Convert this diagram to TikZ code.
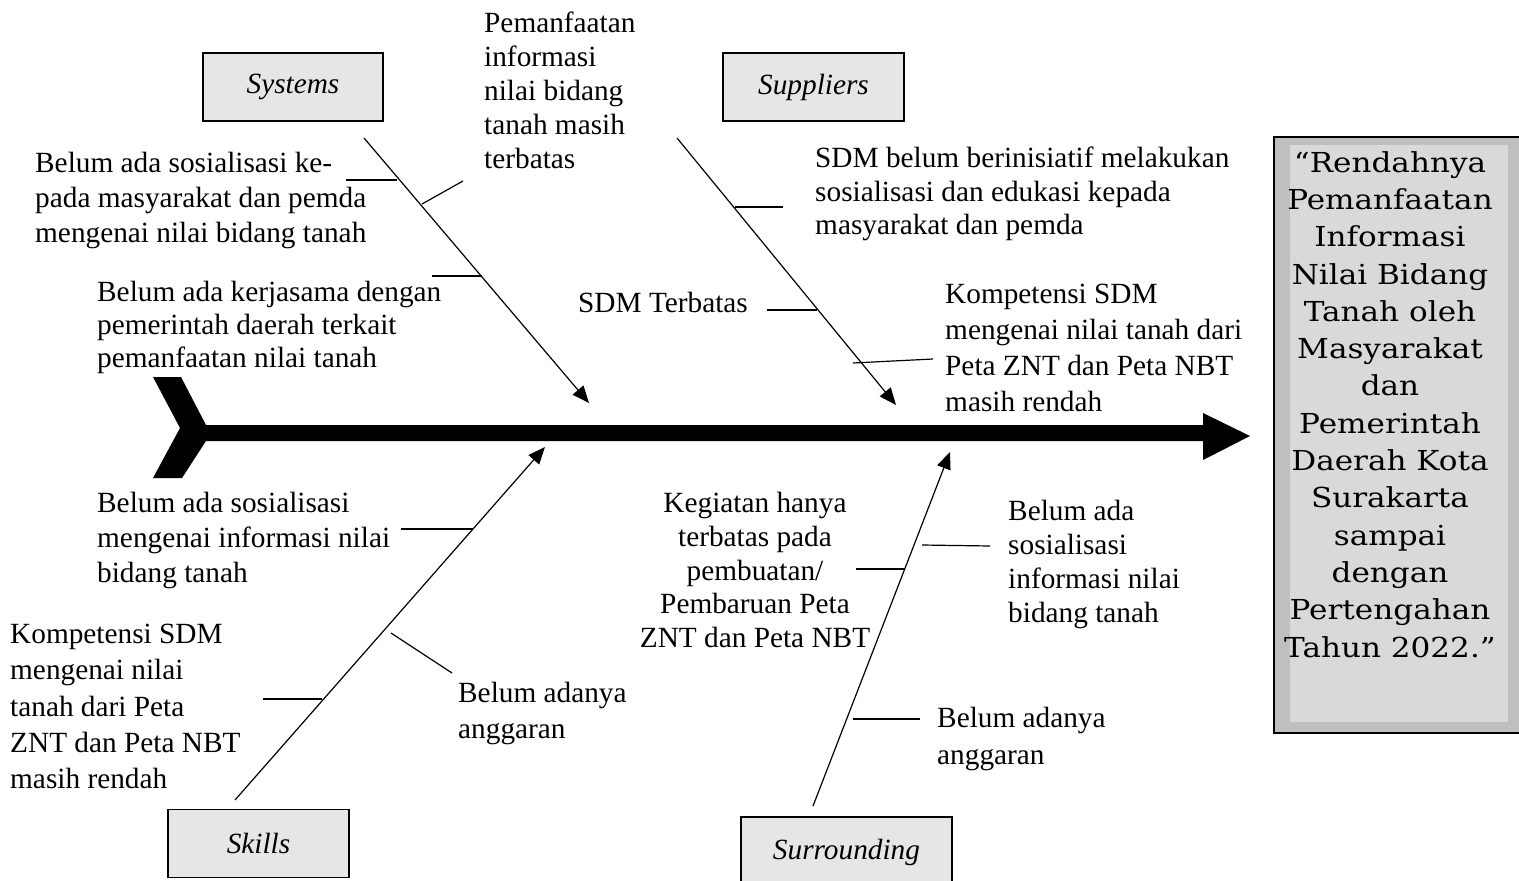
\documentclass[tikz,border=0pt]{standalone}
\usepackage{fontspec}
\setmainfont{Liberation Serif}
\newfontfamily\headfont[FakeStretch=1.13]{DejaVu Serif}
\usetikzlibrary{arrows.meta}
\definecolor{boxgray}{HTML}{E6E6E6}
\definecolor{outergray}{HTML}{BFBFBF}
\definecolor{innergray}{HTML}{D9D9D9}
\begin{document}
\begin{tikzpicture}[x=1pt,y=-1pt,
  lbl/.style={font=\fontsize{29.3}{34.5}\selectfont, align=left, anchor=north west, inner sep=0pt},
  catbox/.style={draw, line width=1.5pt, fill=boxgray, inner sep=0pt, minimum height=68pt, font=\fontsize{29.3}{34}\selectfont\itshape},
  bone/.style={line width=1.2pt, -{Triangle[length=17pt,width=14pt]}},
  twig/.style={line width=1.2pt}]
\useasboundingbox (0,0) rectangle (1519,881);

% head box
\fill[outergray] (1274,137) rectangle (1524,733);
\draw[line width=1.5pt] (1274,137) rectangle (1524,733);
\fill[innergray] (1290,145) rectangle (1508,722);
\node[font=\headfont\fontsize{27.5}{37.3}\selectfont, align=center, anchor=north, inner sep=0pt] (head) at (1390,151)
 {“Rendahnya\\Pemanfaatan\\Informasi\\Nilai Bidang\\Tanah oleh\\Masyarakat\\dan\\Pemerintah\\Daerah Kota\\Surakarta\\sampai\\dengan\\Pertengahan\\Tahun 2022.”};

% spine and tail
\fill (153,377) -- (181,377) -- (206,425) -- (1203,425) -- (1203,413) -- (1250,436) -- (1203,460) -- (1203,441) -- (206,441) -- (182,478) -- (153,478) -- (180,428) -- cycle;

% category boxes
\node[catbox, minimum width=180pt] (sys) at (293,87) {Systems};
\node[catbox, minimum width=181pt] (sup) at (813.5,87) {Suppliers};
\node[catbox, minimum width=181pt] (ski) at (258.5,843.5) {Skills};
\begin{scope}
\clip (0,0) rectangle (1519,881);
\node[catbox, minimum width=211pt, minimum height=72pt] (sur) at (846.5,853) {\raisebox{7pt}{Surrounding}};
\end{scope}

% bones
\coordinate (sysA) at (364,138); \coordinate (sysB) at (589,403);
\coordinate (supA) at (677,138); \coordinate (supB) at (896,405);
\coordinate (skiA) at (235,800); \coordinate (skiB) at (545,447);
\coordinate (surA) at (813,806); \coordinate (surB) at (950,452);
\draw[bone] (sysA) -- (sysB);
\draw[bone] (supA) -- (supB);
\draw[bone] (skiA) -- (skiB);
\draw[bone] (surA) -- (surB);

% twigs
\draw[twig] (346,180) -- (397,180);
\draw[twig] (422,204) -- (463,181);
\draw[twig] (432,276) -- (482,276);
\draw[twig] (735,207) -- (783,207);
\draw[twig] (767,310) -- (817,310);
\draw[twig] (853,363) -- (933,359);
\draw[twig] (401,529) -- (473,529);
\draw[twig] (391,633) -- (452,673);
\draw[twig] (263,699) -- (322,699);
\draw[twig] (922,545) -- (990,546);
\draw[twig] (856,569) -- (905,569);
\draw[twig] (853,719) -- (920,719);

% labels
\node[lbl, font=\fontsize{29.3}{33.8}\selectfont] (t1) at (484,12) {Pemanfaatan\\informasi\\nilai bidang\\tanah masih\\terbatas};
\node[lbl, font=\fontsize{29.3}{35}\selectfont] (t2) at (35,152) {Belum ada sosialisasi ke-\\pada masyarakat dan pemda\\mengenai nilai bidang tanah};
\node[lbl, font=\fontsize{29.3}{33}\selectfont] (t3) at (97,281) {Belum ada kerjasama dengan\\pemerintah daerah terkait\\pemanfaatan nilai tanah};
\node[lbl, font=\fontsize{29.3}{33.5}\selectfont] (t4) at (815,147) {SDM belum berinisiatif melakukan\\sosialisasi dan edukasi kepada\\masyarakat dan pemda};
\node[lbl] (t5) at (578,292) {SDM Terbatas};
\node[lbl, font=\fontsize{29.3}{36}\selectfont] (t6) at (945,284) {Kompetensi SDM\\mengenai nilai tanah dari\\Peta ZNT dan Peta NBT\\masih rendah};
\node[lbl, font=\fontsize{29.3}{35}\selectfont] (t7) at (97,492) {Belum ada sosialisasi\\mengenai informasi nilai\\bidang tanah};
\node[lbl, font=\fontsize{29.3}{36.2}\selectfont] (t8) at (10,624) {Kompetensi SDM\\mengenai nilai\\tanah dari Peta\\ZNT dan Peta NBT\\masih rendah};
\node[lbl, font=\fontsize{29.3}{36}\selectfont] (t9) at (458,682) {Belum adanya\\anggaran};
\node[lbl, font=\fontsize{29.3}{33.8}\selectfont, align=center, anchor=north] (t10) at (755,492) {Kegiatan hanya\\terbatas pada\\pembuatan/\\Pembaruan Peta\\ZNT dan Peta NBT};
\node[lbl, font=\fontsize{29.3}{34}\selectfont] (t11) at (1008,500) {Belum ada\\sosialisasi\\informasi nilai\\bidang tanah};
\node[lbl, font=\fontsize{29.3}{37}\selectfont] (t12) at (937,707) {Belum adanya\\anggaran};
\end{tikzpicture}
\end{document}
